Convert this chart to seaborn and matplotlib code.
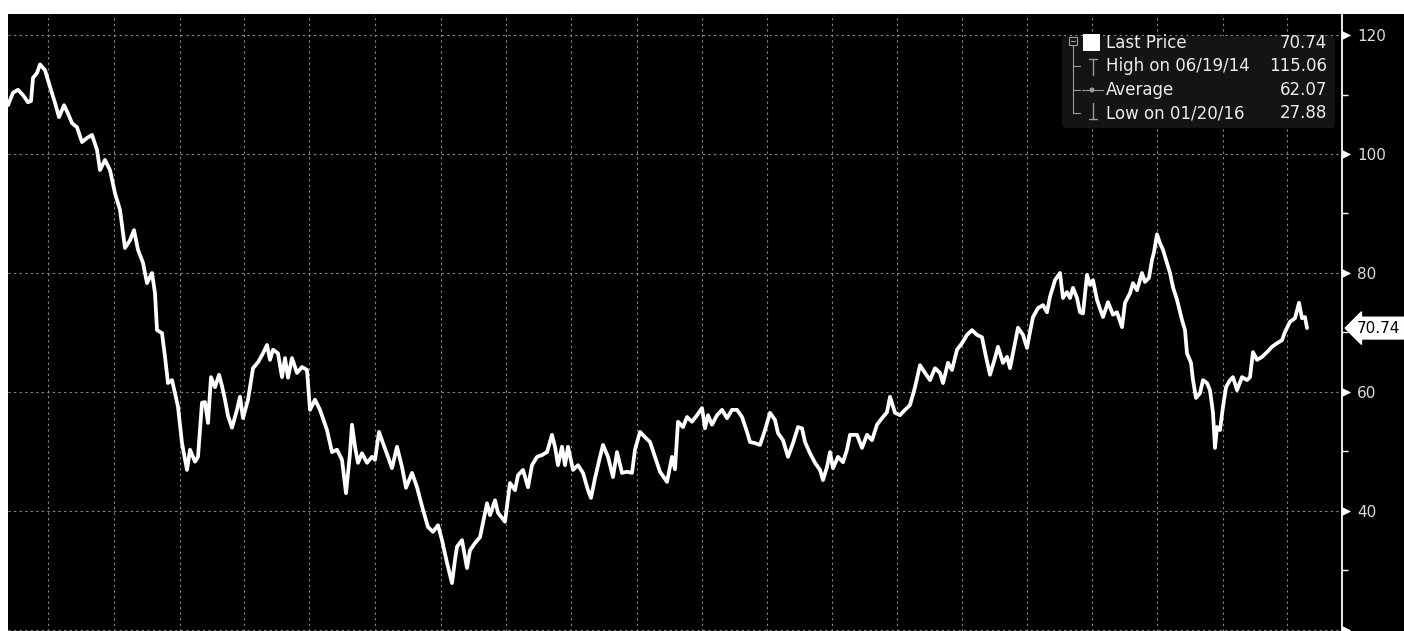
import seaborn as sns
import matplotlib.pyplot as plt
import pandas as pd
import numpy as np
from matplotlib.patches import Rectangle, FancyBboxPatch, Circle
from matplotlib.transforms import blended_transform_factory, ScaledTranslation

# trading days since 2014-05-06 and price
day = [0, 5, 10, 15, 20, 23, 25, 29, 32, 37, 42, 47, 51, 56, 60, 64, 69, 74, 79, 84,
       89, 92, 97, 102, 107, 112, 115, 117, 122, 126, 130, 135, 139, 144, 147, 149, 154, 157, 160, 164,
       167, 170, 174, 179, 182, 187, 190, 194, 197, 200, 203, 207, 211, 214, 217, 220, 224, 229, 232, 235,
       240, 245, 250, 255, 259, 262, 265, 270, 274, 277, 280, 284, 289, 294, 299, 302, 307, 312, 319, 324,
       329, 334, 338, 342, 344, 347, 350, 354, 359, 364, 367, 371, 375, 380, 384, 389, 394, 398, 404, 409,
       415, 420, 425, 430, 434, 439, 444, 447, 449, 454, 459, 462, 467, 472, 475, 479, 482, 487, 490, 497,
       502, 507, 510, 515, 520, 524, 529, 534, 539, 544, 547, 550, 554, 557, 560, 565, 570, 575, 580, 583,
       587, 592, 595, 600, 605, 609, 614, 619, 624, 627, 632, 637, 642, 647, 652, 659, 664, 667, 670, 675,
       679, 684, 689, 694, 697, 700, 704, 709, 714, 719, 724, 729, 734, 739, 742, 747, 752, 757, 762, 767,
       770, 775, 780, 785, 790, 794, 797, 802, 807, 812, 815, 819, 822, 825, 830, 835, 839, 842, 849, 854,
       859, 864, 869, 874, 879, 882, 887, 892, 897, 902, 907, 912, 917, 922, 927, 932, 935, 940, 944, 949,
       954, 959, 964, 969, 974, 978, 982, 987, 990, 995, 999, 1002, 1007, 1010, 1015, 1019, 1022, 1025, 1030, 1035,
       1039, 1042, 1047, 1052, 1055, 1059, 1062, 1065, 1069, 1072, 1075, 1079, 1082, 1085, 1089, 1092, 1095, 1100, 1105, 1109,
       1114, 1117, 1122, 1125, 1129, 1134, 1137, 1141, 1144, 1146, 1149, 1152, 1155, 1159, 1162, 1165, 1169, 1174, 1177, 1179,
       1183, 1185, 1188, 1192, 1195, 1199, 1202, 1205, 1207, 1209, 1212, 1215, 1218, 1222, 1225, 1229, 1234, 1239, 1242, 1245,
       1249, 1254, 1259, 1264, 1269, 1274, 1277, 1282, 1287, 1291, 1294, 1297, 1299]
price = [108.2, 110.3, 110.8, 109.9, 108.7, 108.9, 112.8, 113.6, 115.06, 114.1, 111.3, 108.6, 106.2, 108.2, 106.8, 105.2, 104.5, 102.0, 102.7, 103.2,
         100.7, 97.3, 99.0, 97.3, 93.4, 90.6, 86.7, 84.2, 85.5, 87.2, 83.9, 81.7, 78.3, 80.0, 76.6, 70.4, 69.9, 65.9, 61.5, 62.0,
         59.8, 57.5, 51.4, 46.9, 50.3, 48.3, 49.1, 58.2, 58.3, 54.8, 62.5, 60.8, 62.9, 61.0, 58.7, 56.0, 54.0, 57.0, 59.2, 55.6,
         58.7, 64.0, 65.0, 66.5, 67.9, 65.4, 67.1, 66.5, 62.5, 65.7, 62.4, 65.7, 63.2, 64.2, 63.7, 57.0, 58.7, 57.0, 53.6, 49.9,
         50.3, 48.6, 43.0, 49.7, 54.5, 50.8, 48.1, 49.7, 48.1, 49.1, 48.6, 53.3, 51.4, 49.1, 47.2, 50.8, 47.4, 43.9, 46.4, 44.0,
         40.2, 37.3, 36.5, 37.6, 35.1, 31.3, 27.88, 31.8, 34.0, 35.1, 30.4, 33.4, 34.6, 35.6, 38.0, 41.3, 39.3, 41.8, 39.7, 38.2,
         44.7, 43.5, 46.0, 46.9, 44.0, 47.7, 49.1, 49.4, 49.9, 52.8, 50.8, 47.7, 50.8, 47.7, 50.8, 46.9, 47.7, 46.4, 43.5, 42.2,
         45.5, 49.1, 51.1, 49.1, 45.7, 49.9, 46.4, 46.6, 46.4, 50.3, 53.3, 52.4, 51.6, 49.1, 46.6, 44.9, 49.1, 47.0, 55.0, 54.1,
         55.8, 55.0, 56.1, 57.3, 53.9, 56.1, 54.5, 56.1, 57.0, 55.6, 57.0, 57.0, 55.8, 53.3, 51.6, 51.4, 51.1, 53.6, 56.5, 55.3,
         53.1, 51.9, 49.1, 51.4, 54.1, 53.9, 51.6, 49.7, 48.1, 46.9, 45.2, 47.4, 49.9, 47.2, 49.1, 48.2, 50.3, 52.8, 52.8, 50.6,
         52.8, 51.9, 54.5, 55.6, 56.6, 59.2, 56.5, 56.1, 57.0, 57.8, 60.8, 64.5, 63.2, 62.0, 64.0, 63.2, 61.5, 64.9, 63.7, 67.1,
         68.2, 69.6, 70.4, 69.6, 69.2, 65.9, 62.9, 65.7, 67.6, 64.9, 65.9, 64.0, 68.2, 70.8, 69.6, 67.4, 70.1, 72.6, 74.1, 74.6,
         73.4, 76.0, 78.8, 80.0, 75.8, 76.8, 75.8, 77.5, 75.8, 73.4, 73.2, 79.7, 78.0, 78.8, 75.5, 74.0, 72.6, 75.1, 73.0, 73.4,
         70.9, 75.0, 76.6, 78.3, 77.1, 80.0, 78.5, 79.2, 82.2, 83.5, 86.5, 85.0, 83.9, 81.7, 80.0, 77.6, 75.5, 72.1, 70.4, 66.5,
         64.9, 62.0, 59.0, 59.8, 62.0, 61.5, 60.3, 56.5, 50.6, 54.1, 53.6, 57.5, 60.8, 62.0, 62.5, 60.3, 62.5, 62.0, 62.5, 66.7,
         65.4, 65.9, 66.7, 67.6, 68.2, 68.7, 70.1, 71.8, 72.4, 75.0, 72.4, 72.6, 70.74]

start_date = "2014-05-06"
last_price = 70.74
legend_labels = ["Last Price", "High on 06/19/14", "Average", "Low on 01/20/16"]
legend_values = ["70.74", "115.06", "62.07", "27.88"]
major_ticks = [20, 40, 60, 80, 100, 120]
major_labels = ["", "40", "60", "80", "100", "120"]
minor_ticks = [30, 50, 70, 90, 110]

W, H = 1404, 631
sns.set_theme(style="dark")
plt.rcParams["font.family"] = ["DejaVu Sans"]

fig = plt.figure(figsize=(W / 100, H / 100), dpi=100, facecolor="white")
fig.patches.append(Rectangle((8 / W, 0), 1 - 8 / W, 617 / H, transform=fig.transFigure,
                             facecolor="black", edgecolor="none", zorder=-5))

ax = fig.add_axes([8 / W, 0, 1334 / W, 617 / H])
ax.set_facecolor("black")

df = pd.DataFrame({"day": day, "price": price})
sns.lineplot(data=df, x="day", y="price", ax=ax, color="white", linewidth=2.7)

# quarterly vertical grid lines from the business-day calendar
bdays = pd.bdate_range(start_date, periods=1400)
quarters = [i for i in range(1, len(bdays))
            if bdays[i].month != bdays[i - 1].month and bdays[i].month in (1, 4, 7, 10)]

ax.set_xlim(0, 1334)
ax.set_ylim(19.83, 123.53)
ax.set_xticks([q for q in quarters if q < 1334])
ax.set_yticks(major_ticks, major_labels)
ax.set_yticks(minor_ticks, minor=True)
ax.grid(True, which="major", color="#8a8a8a", linestyle=(0, (2, 3)), linewidth=0.8)
ax.set_axisbelow(True)
ax.set_xlabel("")
ax.set_ylabel("")

for side in ["left", "top", "bottom"]:
    ax.spines[side].set_visible(False)
ax.spines["right"].set_color("white")
ax.spines["right"].set_linewidth(1.3)

ax.tick_params(axis="x", length=0, labelbottom=False)
ax.yaxis.tick_right()
ax.tick_params(axis="y", which="major", length=0, pad=11, labelsize=11, labelcolor="#dcdcdc")
ax.tick_params(axis="y", which="minor", length=4, width=1, color="white", direction="out")

# triangle tick marks on the price axis
tri = blended_transform_factory(ax.transAxes, ax.transData) + ScaledTranslation(4 / 100, 0, fig.dpi_scale_trans)
ax.scatter([1.0] * len(major_ticks), major_ticks, marker=">", s=45, color="white",
           transform=tri, clip_on=False, zorder=5, linewidths=0)

# last price tag
tag = blended_transform_factory(ax.transAxes, ax.transData) + ScaledTranslation(15 / 100, 0, fig.dpi_scale_trans)
ax.text(1.0, last_price, "70.74", transform=tag, ha="left", va="center", fontsize=11, color="black",
        bbox=dict(boxstyle="larrow,pad=0.22", facecolor="white", edgecolor="white"), clip_on=False)

# legend box with tree icons, in pixel coordinates
ov = fig.add_axes([0, 0, 1, 1], facecolor="none")
ov.set_xlim(0, W)
ov.set_ylim(H, 0)
ov.axis("off")
ov.add_patch(FancyBboxPatch((1062, 36), 273, 92, boxstyle="round,pad=0,rounding_size=4",
                            facecolor="#141414", edgecolor="none"))
gray = "#9a9a9a"
rows = [43, 66, 90, 113]
ov.add_patch(Rectangle((1069, 37), 8, 8, facecolor="none", edgecolor=gray, linewidth=0.8))
ov.plot([1071, 1075], [41, 41], color=gray, lw=0.8)
ov.plot([1073, 1073], [45, rows[-1]], color=gray, lw=0.8)
for r in rows[1:]:
    ov.plot([1073, 1080], [r, r], color=gray, lw=0.8)
ov.add_patch(Rectangle((1083, 34), 17, 17, facecolor="white", edgecolor="none"))
ov.plot([1093, 1093], [59, 75], color=gray, lw=1)
ov.plot([1089, 1097], [59, 59], color=gray, lw=1)
ov.plot([1082, 1103], [rows[2], rows[2]], color=gray, lw=0.8)
ov.add_patch(Circle((1092, rows[2]), 2.5, facecolor=gray, edgecolor="none"))
ov.plot([1093, 1093], [103, 119], color=gray, lw=1)
ov.plot([1089, 1097], [119, 119], color=gray, lw=1)
for r, lab, val in zip(rows, legend_labels, legend_values):
    ov.text(1106, r, lab, ha="left", va="center", fontsize=12, color="#ececec")
    ov.text(1327, r, val, ha="right", va="center", fontsize=12, color="#ececec")

fig.savefig("out.png", dpi=100, facecolor=fig.get_facecolor())
